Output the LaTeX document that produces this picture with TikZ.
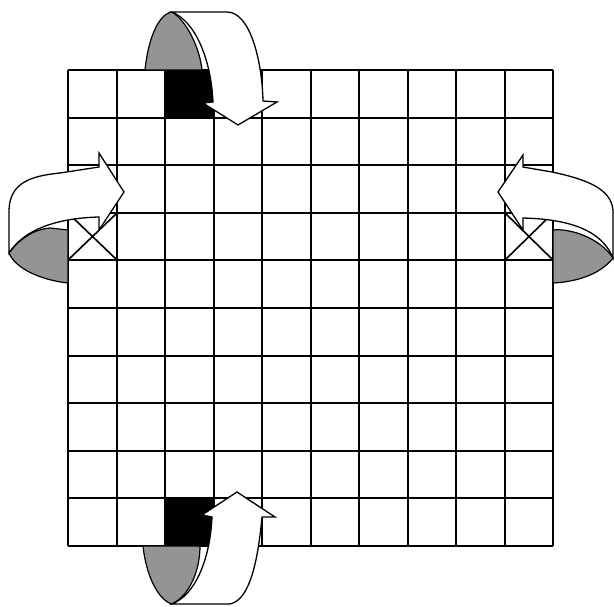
\documentclass[tikz,border=0pt]{standalone}
\begin{document}
\begin{tikzpicture}[x=1pt,y=-1pt,line join=miter,
  gridline/.style={line width=1.6pt},
  backside/.style={fill=black!42,draw=black,line width=1.2pt},
  ribbon/.style={fill=white,draw=black,line width=1.3pt}]
\useasboundingbox (0,0) rectangle (614,606);
% black cells
\fill (165,70) rectangle (214,118);
\fill (165,498) rectangle (214,546);
% grid
\foreach \v in {68,117,165,214,262,311,359,408,456,505,553}
  \draw[gridline] (\v,70) -- (\v,546);
\foreach \h in {70,118,165,213,260,308,356,403,451,498,546}
  \draw[gridline] (68,\h) -- (553,\h);
% crossed cells
\draw[gridline] (68,213) -- (117,260) (68,260) -- (117,213);
\draw[gridline] (505,213) -- (553,260) (505,260) -- (553,213);
% shaded back sides
\draw[backside] (145,70) .. controls (148,40) and (158,14) .. (172,12)
  .. controls (188,22) and (200,50) .. (202,70) -- cycle;
\draw[backside] (143,546) .. controls (146,575) and (158,600) .. (172,604)
  .. controls (190,595) and (200,570) .. (200,546) -- cycle;
\draw[backside] (9,253) .. controls (20,238) and (35,229) .. (50,228) -- (68,230)
  -- (68,283) .. controls (40,280) and (15,268) .. (9,253) -- cycle;
\draw[backside] (553,230) .. controls (570,228) and (600,238) .. (613,258)
  .. controls (600,275) and (575,282) .. (553,283) -- cycle;
% white ribbons with arrowheads
\draw[ribbon] (172,12) -- (227,12) .. controls (250,12) and (262,60) .. (263,101)
  -- (277,102) -- (238,125) -- (203,103) -- (213,102)
  .. controls (211,60) and (196,22) .. (172,12) -- cycle;
\draw[ribbon] (172,604) -- (230,604) .. controls (250,600) and (258,560) .. (262,517)
  -- (275,517) -- (237,492) -- (202,515) -- (212,517)
  .. controls (210,560) and (195,595) .. (172,604) -- cycle;
\draw[ribbon] (99,167) -- (99,153) -- (124,192) -- (99,230) -- (99,217)
  .. controls (60,218) and (25,228) .. (9,253) -- (9,210)
  .. controls (10,183) and (30,176) .. (60,173) -- cycle;
\draw[ribbon] (523,167) -- (523,155) -- (498,192) -- (523,230) -- (523,218)
  .. controls (560,219) and (600,226) .. (613,258) -- (613,210)
  .. controls (611,190) and (590,180) .. (552,172) -- cycle;
\end{tikzpicture}
\end{document}
